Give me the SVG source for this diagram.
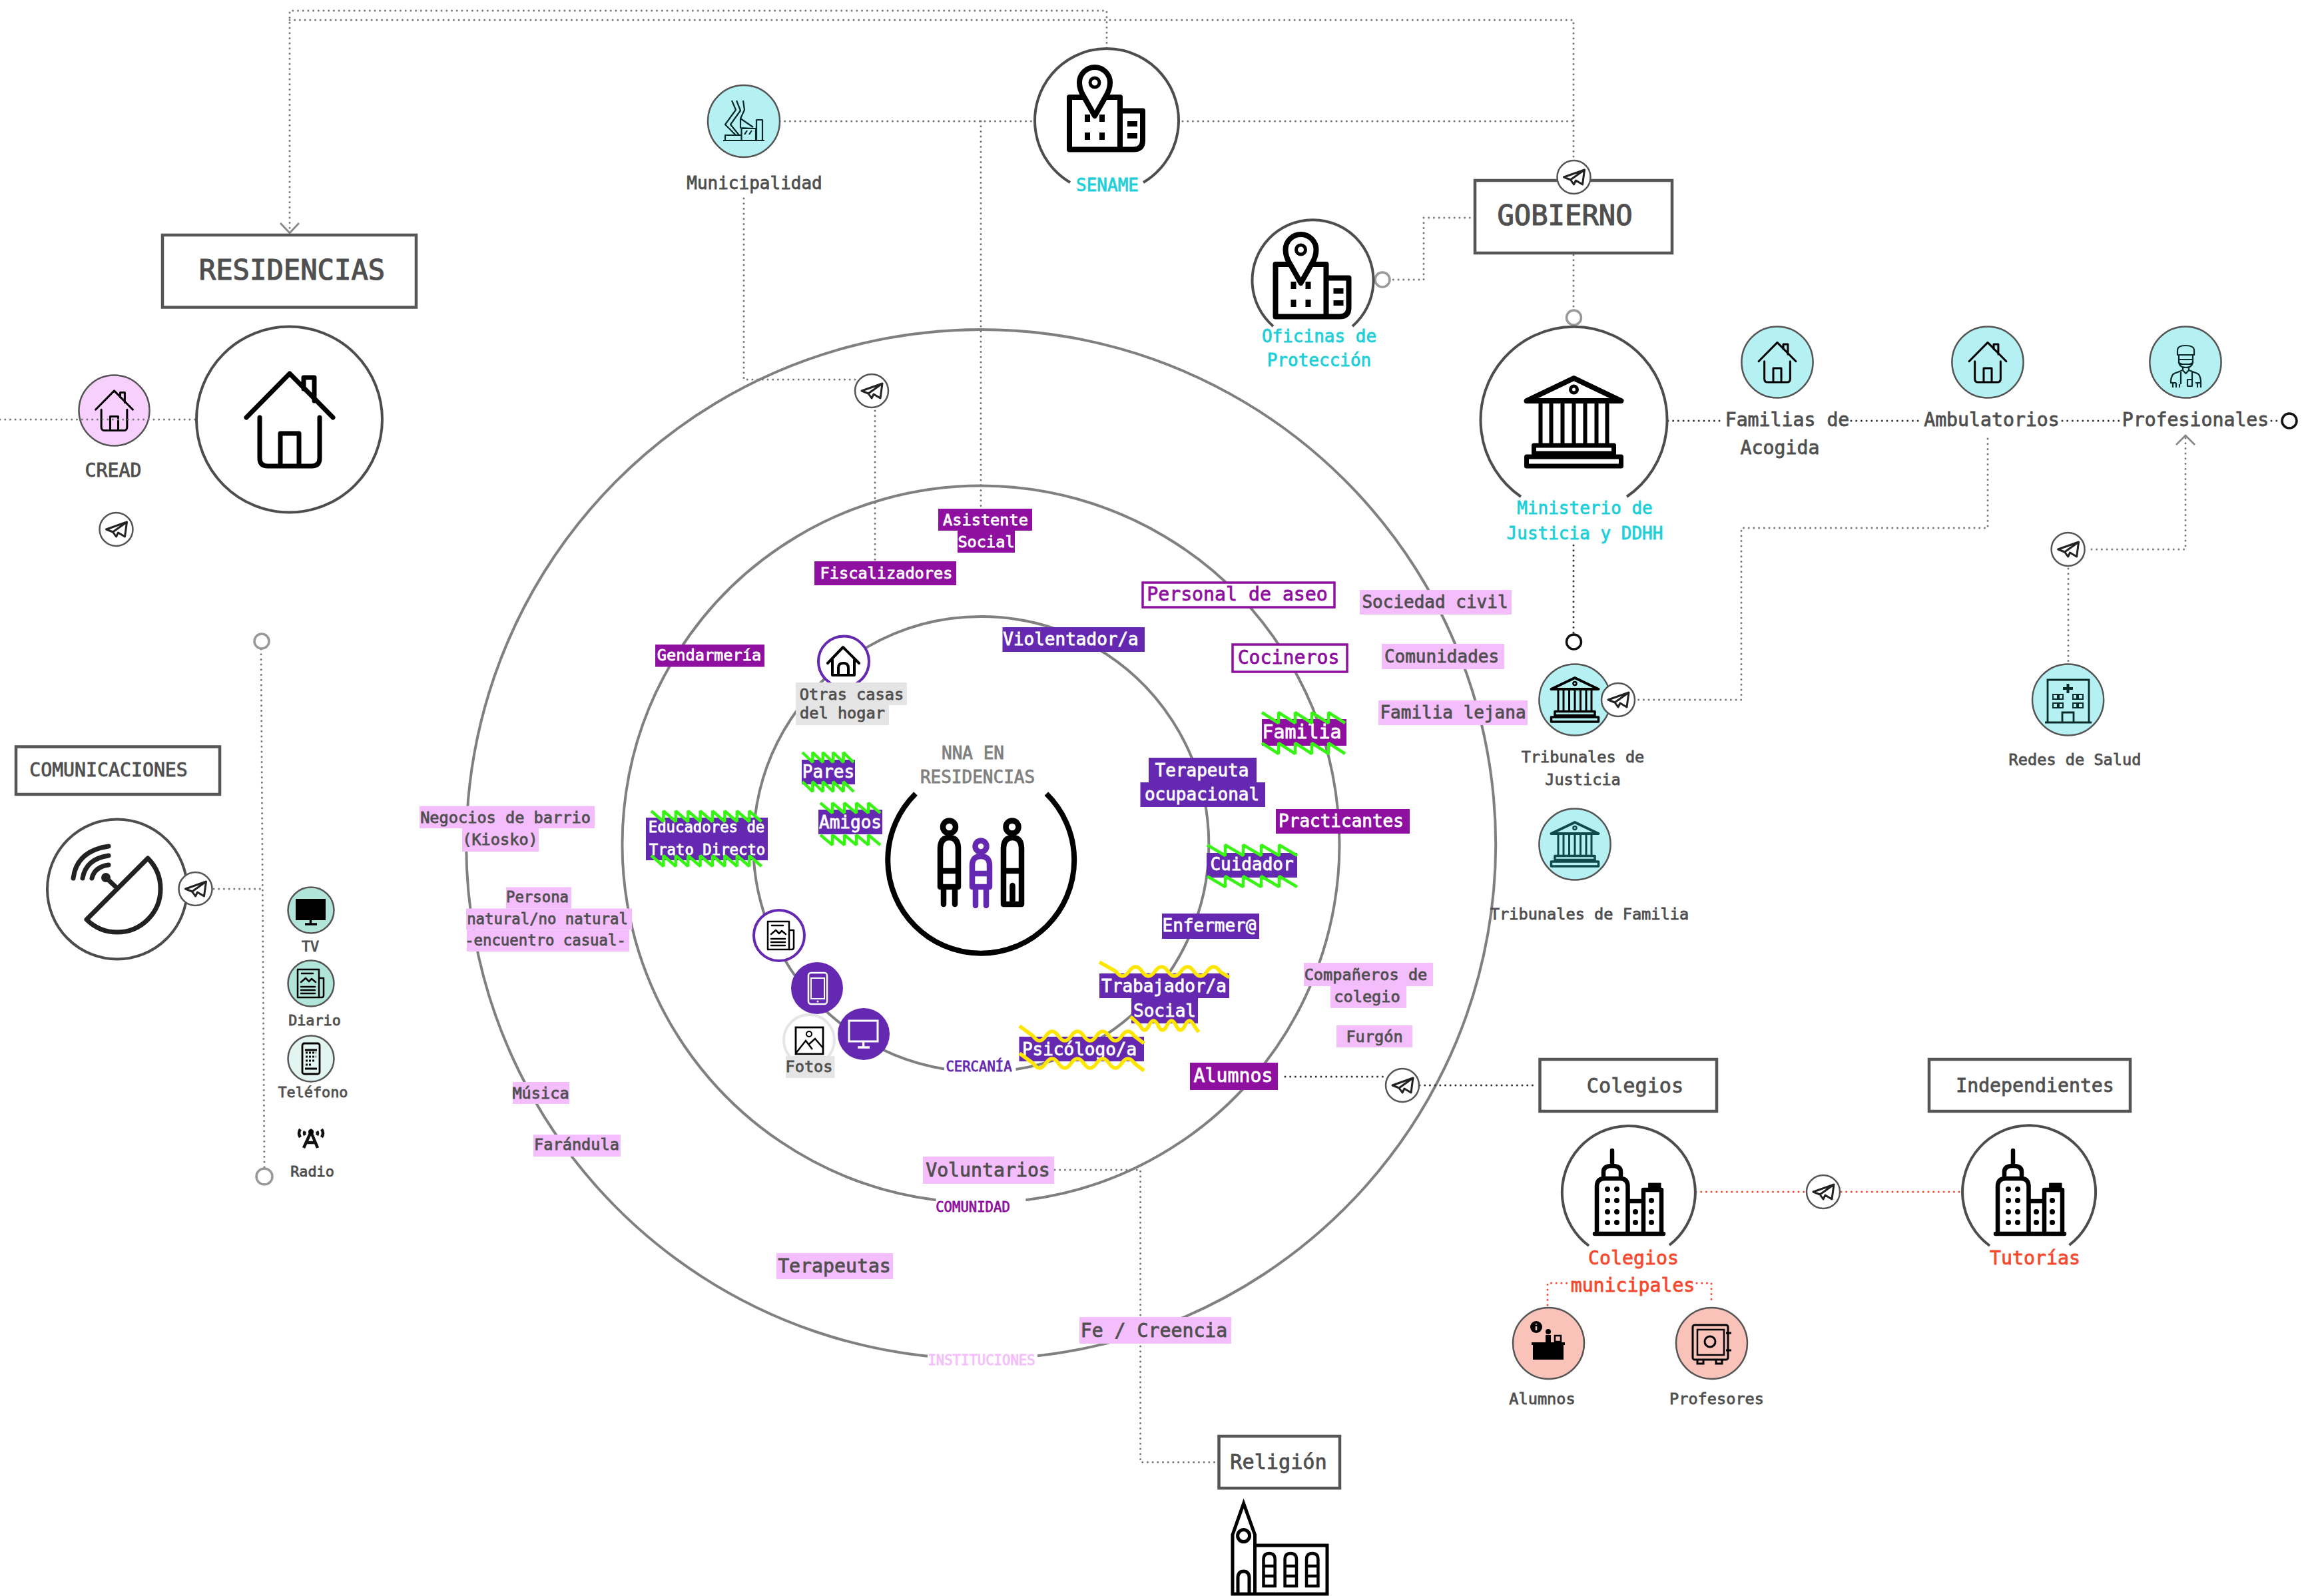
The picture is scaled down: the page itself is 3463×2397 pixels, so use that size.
<svg xmlns="http://www.w3.org/2000/svg" xmlns:xlink="http://www.w3.org/1999/xlink" width="3463" height="2397" viewBox="0 0 3463 2397">
<style>
text{font-family:"DejaVu Sans Mono","Liberation Mono",monospace;dominant-baseline:central;text-anchor:middle;fill:#4f4f4f;stroke:#4f4f4f;stroke-width:.8px}
.f12{font-size:20.6px}.f13{font-size:21.8px}.f14{font-size:23.6px}.f15{font-size:22.3px}.f16{font-size:26px}.f17{font-size:28.2px}.f18{font-size:30.2px}.f42{font-size:42.2px;stroke-width:1.2px}
.w{fill:#fff;stroke:#fff}.cy{fill:#1ccfd8;stroke:#1ccfd8}.rd{fill:#f4492f;stroke:#f4492f}.p1{fill:#6429b0;stroke:#6429b0}.p2{fill:#8e0fa0;stroke:#8e0fa0}.gy{fill:#808080;stroke:#808080}.pk{fill:#f4bdfc;stroke:#f4bdfc}
.bp1{fill:#6429b0}.bp2{fill:#8e0fa0}.bpk{fill:#f4bdfc}.bgy{fill:#e5e5e5}
.ring{fill:none;stroke:#808080;stroke-width:4}
.arc{fill:none;stroke:#4d4d4d;stroke-width:4}
.box{fill:#fff;stroke:#555;stroke-width:4.5}
.ob{fill:#fff;stroke:#8e0fa0;stroke-width:3.5}
.c{stroke:#555;stroke-width:2.5}
.cb{fill:#b5f0f2}.cm{fill:#b2e5da}.cs{fill:#f9c3ba}
.dot{fill:none;stroke:#777;stroke-width:3;stroke-dasharray:0 7.7;stroke-linecap:round}
.dk{stroke:#333}.dr{stroke:#f4492f}
.head{fill:none;stroke:#888;stroke-width:2.8}
.knob{fill:#fff;stroke:#999;stroke-width:3.5}.knobk{fill:#fff;stroke:#111;stroke-width:3.5}
.ic{fill:none;stroke:#000;stroke-linecap:round;stroke-linejoin:round}
.zz{fill:none;stroke:#37f414;stroke-width:4.5;stroke-linejoin:bevel}
.yy{fill:none;stroke:#ffe600;stroke-width:5.5}
</style>
<defs>
<g id="plane"><circle r="25" fill="#fff" stroke="#555" stroke-width="2.5"/><path d="M16,-11 L-15,0 L-5,4 L0,11 L3,5 L13,11 Z M16,-11 L-5,4" fill="none" stroke="#222" stroke-width="3" stroke-linejoin="round"/></g>
<g id="house"><path d="M-65,-3 L0,-69 L65,-3 M-45,-3 V58 Q-45,70 -33,70 H33 Q45,70 45,58 V-3 M-14,70 V21 H14 V70 M21,-46 V-63 H37 V-28"/></g>
<g id="pinb"><path d="M-12,13 H-38 V91.5 H38 V13 H12 M38,33.5 H72 V78 Q72,91.5 58,91.5 H38" stroke-width="8"/><path d="M0,41 L-17,11 Q-23,1 -23,-9 A23,23 0 0 1 23,-9 Q23,1 17,11 Z" stroke-width="8" fill="#fff"/><circle cy="-9" r="7" stroke-width="5"/><path d="M-11,39 V50 M11,39 V50 M-11,66 V77 M11,66 V77 M49,53 H64 M49,71 H64" stroke-width="8" stroke-linecap="butt"/></g>
<g id="bank"><path d="M-71,-30 L0,-64 L71,-30 Z" stroke-width="8"/><circle cy="-47" r="5" stroke-width="5"/><path d="M-50,-30 V37 M-34,-30 V37 M-17,-30 V37 M0,-30 V37 M17,-30 V37 M34,-30 V37 M50,-30 V37" stroke-width="6"/><path d="M-60,37 H60 V49 H-60 Z M-71,54 H71 V68 H-71 Z" stroke-width="7"/></g>
<g id="city"><path d="M-48,63 V-8 Q-48,-20 -36,-20 H-13 Q-1.500,-20 -1.500,-8 V63 M-1.500,14 H22 M22,63 V-3 H49 V63 M-38,-20 V-30 Q-38,-39 -25,-39 Q-12,-39 -12,-30 V-20 M-25,-39 V-62 M-51,63 H52" stroke-width="6.500"/><rect x="30" y="-13" width="18" height="10" fill="#000"/><g fill="#000" stroke="none"><circle cx="-32" cy="-4" r="4"/><circle cx="-18" cy="-4" r="4"/><circle cx="-32" cy="13" r="4"/><circle cx="-18" cy="13" r="4"/><circle cx="-32" cy="30" r="4"/><circle cx="-18" cy="30" r="4"/><circle cx="-32" cy="46" r="4"/><circle cx="-18" cy="46" r="4"/><circle cx="10" cy="30" r="4"/><circle cx="10" cy="46" r="4"/><circle cx="34" cy="13" r="4"/><circle cx="34" cy="30" r="4"/><circle cx="34" cy="46" r="4"/></g></g>
<g id="news"><path d="M-20,-21 H12 V21 H-20 Z M12,-8 H19 V18 Q19,21 16,21 H12" stroke-width="2.500"/><path d="M-14,-15 H3 M-15,-2 L-8,-8 L-3,-3 L1,-7 L7,-2 M-15,5 H6 M-15,10 H6 M-15,15 H6" stroke-width="2.500"/></g>
</defs>

<g id="rings">
<path class="ring" d="M1558,2036.300 A773,773 0 1 0 1393,2036.800"/>
<path class="ring" d="M1540.400,1802.300 A538.500,538.500 0 1 0 1405.600,1802.300"/>
<path class="ring" d="M1525.500,1606 A342,342 0 1 0 1418,1605.500"/>
<text class="f12 p1" x="1470" y="1602">CERCANÍA</text>
<text class="f12 p2" x="1461" y="1813">COMUNIDAD</text>
<text class="f12 pk" x="1474" y="2043">INSTITUCIONES</text>
</g>

<g id="n-cread"><circle class="c" cx="171.500" cy="616.500" r="53" fill="#f7d0fd"/><use href="#house" class="ic" stroke-width="7" transform="translate(171.500,616.500) scale(.43)"/><text class="f17" x="170" y="706">CREAD</text></g>

<g id="connectors">
<path class="dot" d="M1662,72 V16 H435 V346"/>
<path class="dot" d="M435,30 H2363 V241"/>
<path class="dot" d="M1171,182 H1553 M1473,182 V762 M1776,182 H2363"/>
<path class="dot" d="M1117,298 V570 H1287 M1314,617 V843"/>
<path class="dot" d="M2215,327 H2138 V420 H2088"/>
<path class="dot" d="M2363,383 V465"/>
<path class="dot dk" d="M2363,819 V950"/>
<path class="dot dk" d="M2505,632 H2588 M2780,632 H2885 M3097,632 H3183 M3411,632 H3426"/>
<path class="dot" d="M2985,659 V793 H2615 V1051 H2456"/>
<path class="dot" d="M3282,658 V825 H3134 M3106,854 V997"/>
<path class="dot" d="M0,630 H295"/>
<path class="dot" d="M321,1335 H394 M392,975 L397,1755"/>
<path class="dot dk" d="M1930,1617 H2082 M2132,1630 H2306"/>
<path class="dot" d="M1584,1757 H1712.600 V1978 M1712.600,2022 V2196 H1829"/>
<path class="dot dr" d="M2547,1790 H2713 M2765,1790 H2945 M2324,1960 V1927 H2357 M2548,1927 H2570 V1956"/>
<path class="head" d="M421,335 L435,350 L449,335 M3268,668 L3282,654 L3296,668"/>
<circle class="knob" cx="2076" cy="420" r="11"/><circle class="knob" cx="2363.500" cy="477" r="11"/><circle class="knob" cx="393" cy="963" r="11"/><circle class="knob" cx="397" cy="1767" r="12"/>
<circle class="knobk" cx="2363.500" cy="964" r="11"/><circle class="knobk" cx="3438" cy="632" r="11"/>
</g>

<g id="n-residencias"><rect class="box" x="244" y="353" width="381" height="108.500"/><text class="f42" x="438.500" y="405">RESIDENCIAS</text><circle cx="434.500" cy="630" r="139.500" fill="#fff" stroke="#4d4d4d" stroke-width="4"/><use href="#house" class="ic" stroke-width="7" transform="translate(435,630)"/></g>
<use href="#plane" x="174.500" y="795"/>

<g id="n-municipalidad"><circle class="c cb" cx="1117" cy="182" r="54"/><path d="M1086,211 H1148 M1113.500,211 V193 H1135 V211 M1136,211 V180 H1145 V211 M1089,211 V203 H1113 M1118,202 L1122,196 M1125,202 L1129,196 M1099,151 L1105,165 L1089,187 L1105,203 M1106,151 L1112,166 L1097,187 L1110,203 M1116,151 L1118,165 L1112,178 L1131,191 M1112,178 L1112,192 L1130,193" fill="none" stroke="#0a2a2a" stroke-width="2.200" stroke-linejoin="round"/><text class="f16" x="1133" y="275">Municipalidad</text></g>
<g id="n-sename"><path class="arc" d="M1607,274 A108,108 0 1 1 1717,274"/><use href="#pinb" class="ic" transform="translate(1644,133)"/><text class="f16 cy" x="1663" y="278">SENAME</text></g>
<use href="#plane" x="1309" y="587"/>
<g id="n-oficinas"><path class="arc" d="M1912,490 A91,91 0 1 1 2031,490"/><use href="#pinb" class="ic" transform="translate(1953.500,384)"/><text class="f16 cy" x="1981" y="505">Oficinas de</text><text class="f16 cy" x="1981" y="541">Protección</text></g>
<g id="n-gobierno"><rect class="box" x="2215" y="271" width="296" height="109"/><text class="f42" x="2350" y="323">GOBIERNO</text></g>
<use href="#plane" x="2363.500" y="266"/>
<g id="n-ministerio"><path class="arc" d="M2284,746 A140,140 0 1 1 2443,746"/><use href="#bank" class="ic" transform="translate(2363.500,632)"/><text class="f16 cy" x="2380" y="763">Ministerio de</text><text class="f16 cy" x="2380" y="801">Justicia y DDHH</text></g>
<g id="n-familias"><circle class="c cb" cx="2669" cy="544" r="53.600"/><use href="#house" class="ic" stroke-width="7" transform="translate(2669,544) scale(.43)"/><text class="f17" x="2684" y="630">Familias de</text><text class="f17" x="2673" y="672">Acogida</text></g>
<g id="n-ambulatorios"><circle class="c cb" cx="2985" cy="544" r="53.600"/><use href="#house" class="ic" stroke-width="7" transform="translate(2985,544) scale(.43)"/><text class="f17" x="2991" y="630">Ambulatorios</text></g>
<g id="n-profesionales"><circle class="c cb" cx="3282" cy="544" r="53.600"/><path d="M3270,533 V526 Q3270,519 3282,519 Q3295,519 3295,526 V533 Z M3272,533 V542 Q3272,552 3282.500,552 Q3293,552 3293,542 V533 M3272,540 H3293 V545 L3288,547 H3277 L3272,545 Z M3278,551 V556 L3282.500,561 L3287,556 V551 M3278,556 L3265,561 Q3261,563 3260,572 V575 H3268 M3287,556 L3300,561 Q3304,563 3305,572 V575 H3297 M3275,559 V577 M3292,559 V572 M3285,570 H3292 V580 H3285 Z M3263,575 V582 M3268,575 V582 M3273,577 V582 M3300,575 V582 M3305,575 V582" fill="none" stroke="#0a2a2a" stroke-width="2.200" stroke-linejoin="round"/><text class="f17" x="3297" y="630">Profesionales</text></g>
<use href="#plane" x="3105.600" y="825"/>
<g id="n-redes"><circle class="c cb" cx="3105.600" cy="1051" r="53.600"/><path d="M3075,1085 V1021 H3137 V1085 M3071,1085 H3141 M3097,1085 V1070 H3114 V1085" fill="none" stroke="#0a2a2a" stroke-width="2.800"/><path d="M3098,1034 H3113 M3105.500,1027 V1041" fill="none" stroke="#0a2a2a" stroke-width="4"/><path d="M3083,1043 h7 v7 h-7 z M3092,1043 h6 v7 h-6 z M3113,1043 h6 v7 h-6 z M3121,1043 h7 v7 h-7 z M3083,1056 h7 v7 h-7 z M3092,1056 h6 v7 h-6 z M3113,1056 h6 v7 h-6 z M3121,1056 h7 v7 h-7 z" fill="none" stroke="#0a2a2a" stroke-width="2"/><text class="f14" x="3116" y="1141">Redes de Salud</text></g>
<g id="n-tribunales-justicia"><circle class="c cb" cx="2365" cy="1051" r="53.600"/><use href="#bank" class="ic" transform="translate(2365,1050) scale(.5)"/><use href="#plane" x="2430" y="1051"/><text class="f14" x="2377" y="1137">Tribunales de</text><text class="f14" x="2377" y="1171">Justicia</text></g>
<g id="n-tribunales-familia"><circle class="c cb" cx="2365" cy="1268" r="53.600"/><use href="#bank" fill="none" stroke="#0e4a4c" stroke-linecap="round" stroke-linejoin="round" transform="translate(2365,1267) scale(.5)"/><text class="f14" x="2387" y="1373">Tribunales de Familia</text></g>

<g id="n-comunicaciones"><rect class="box" x="24" y="1121.500" width="306" height="71.500"/><text class="f17" x="163" y="1156">COMUNICACIONES</text><circle cx="176" cy="1335.500" r="105" fill="#fff" stroke="#4d4d4d" stroke-width="4"/><path d="M130,1381 L222,1289 A65,65 0 0 1 130,1381 Z" fill="none" stroke="#222" stroke-width="7" stroke-linejoin="round"/><path d="M176,1334 L159,1318 M110,1319 Q115,1278 163,1271 M124,1319 Q129,1290 163,1285 M138,1319 Q142,1302 163,1299" fill="none" stroke="#222" stroke-width="7" stroke-linecap="round"/><circle cx="159" cy="1318" r="7" fill="#222"/><use href="#plane" x="293.500" y="1335"/></g>
<g id="n-tv"><circle class="c cm" cx="467" cy="1367" r="34.500"/><rect x="444" y="1350" width="45" height="32" fill="#000"/><path d="M466.500,1382 V1388 M458,1388 H476" stroke="#000" stroke-width="3.500"/><text class="f13" x="466" y="1421">TV</text></g>
<g id="n-diario"><circle class="c cm" cx="467" cy="1477" r="34.500"/><use href="#news" class="ic" transform="translate(467,1477)"/><text class="f13" x="472.500" y="1532.500">Diario</text></g>
<g id="n-telefono"><circle class="c" cx="467" cy="1590" r="34.500" fill="#e3f5f1"/><rect x="454" y="1567" width="26" height="46" rx="3" fill="none" stroke="#000" stroke-width="2.800"/><path d="M458,1577 H476 M458,1605 H476 M459,1581 h3 m2,0 h3 m2,0 h3 m2,0 h1 M459,1587 h3 m2,0 h3 m2,0 h3 m2,0 h1 M459,1593 h3 m2,0 h3 m2,0 h3 M459,1599 h3 m2,0 h3" fill="none" stroke="#000" stroke-width="3"/><text class="f13" x="470" y="1640">Teléfono</text></g>
<g id="n-radio"><path d="M456,1724 L467,1700 L477,1724 M460,1716 H474 M451,1696 Q447,1702 451,1708 M458,1699 Q456,1702 458,1705 M483,1696 Q487,1702 483,1708 M476,1699 Q478,1702 476,1705" fill="none" stroke="#111" stroke-width="4.500"/><circle cx="467" cy="1700" r="4"/><text class="f13" x="469" y="1759">Radio</text></g>

<g id="n-nna"><text class="f16 gy" x="1461" y="1130.500">NNA EN</text><text class="f16 gy" x="1468" y="1167">RESIDENCIAS</text><path d="M1375,1192 A140,140 0 1 0 1571.400,1192" fill="none" stroke="#000" stroke-width="8"/>
<g class="ic" stroke-width="8.500"><circle cx="1425.500" cy="1242" r="9.500"/><path d="M1412,1332 V1275 Q1412,1258 1425.500,1258 Q1439,1258 1439,1275 V1332 Z M1412,1308 H1439 M1417,1332 V1358 M1434,1332 V1358"/><circle cx="1520" cy="1242" r="9.500"/><path d="M1507,1358 V1275 Q1507,1258 1520.500,1258 Q1534,1258 1534,1275 V1358 Z M1507,1308 H1534 M1520.500,1330 V1358"/></g>
<g class="ic" style="stroke:#6429b0" stroke-width="8.500"><circle cx="1473" cy="1271" r="8.500"/><path d="M1460,1332 V1300 Q1460,1286 1473,1286 Q1486,1286 1486,1300 V1332 Z M1460,1312 H1486 M1465,1332 V1360 M1481,1332 V1360"/></g></g>

<g id="n-otras-casas"><circle cx="1267" cy="993.500" r="38" fill="#fff" stroke="#6429b0" stroke-width="4"/><path d="M1243,996 L1266,972 L1290,996 M1250,991 V1014 H1283 V991 M1259,1014 V1003 Q1259,996 1266.500,996 Q1274,996 1274,1003 V1014" fill="none" stroke="#000" stroke-width="4" stroke-linejoin="round" stroke-linecap="round"/><rect class="bgy" x="1195" y="1025" width="167" height="34"/><rect class="bgy" x="1195" y="1059" width="140" height="30"/><text class="f14" x="1279" y="1042.500">Otras casas</text><text class="f14" x="1265" y="1071">del hogar</text></g>
<g id="n-diario-ring"><circle cx="1170" cy="1405" r="38" fill="#fff" stroke="#6429b0" stroke-width="4"/><use href="#news" class="ic" transform="translate(1173,1405)"/></g>
<g id="n-fotos"><circle cx="1215" cy="1562" r="38" fill="#fff" stroke="#e5e5e5" stroke-width="4"/><rect x="1195" y="1543" width="41" height="40" fill="none" stroke="#000" stroke-width="2.800"/><circle cx="1215" cy="1553" r="4" fill="none" stroke="#000" stroke-width="2"/><path d="M1195,1582 L1210,1563 L1220,1576 M1214,1569 L1224,1560 L1236,1574" fill="none" stroke="#000" stroke-width="2.500"/><rect class="bgy" x="1180" y="1586" width="73.500" height="33"/><text class="f14" x="1215" y="1602">Fotos</text></g>
<g id="n-telefono-ring"><circle class="bp1" cx="1227" cy="1484" r="39"/><rect x="1214" y="1461" width="28" height="47" rx="4" fill="none" stroke="#fff" stroke-width="2.500"/><rect x="1218" y="1469" width="20" height="31" fill="none" stroke="#fff" stroke-width="2"/><circle cx="1228" cy="1504" r="1.500" fill="#fff"/></g>
<g id="n-monitor-ring"><circle class="bp1" cx="1297" cy="1553" r="39"/><rect x="1275" y="1533" width="43" height="31" fill="none" stroke="#fff" stroke-width="3"/><path d="M1296.500,1564 V1572 M1288,1573 H1306" stroke="#fff" stroke-width="3.500"/></g>

<g id="labels-cercania">
<g id="n-violentador"><rect class="bp1" x="1505.500" y="942" width="213.500" height="37"/><text class="f16 w" x="1608" y="959.500">Violentador/a</text></g>
<g id="n-terapeuta"><rect class="bp1" x="1725" y="1138" width="162" height="37"/><rect class="bp1" x="1712.500" y="1175" width="187.500" height="37"/><text class="f16 w" x="1805" y="1157">Terapeuta</text><text class="f16 w" x="1805" y="1193">ocupacional</text></g>
<g id="n-pares"><rect class="bp1" x="1204" y="1141" width="80" height="37"/><text class="f16 w" x="1244" y="1159">Pares</text><path class="zz" d="M1205,1130 l15.400,15 v-15 l15.400,15 v-15 l15.400,15 v-15 l15.400,15 v-15 l15.400,15"/><path class="zz" d="M1205,1174 l15.400,15 v-15 l15.400,15 v-15 l15.400,15 v-15 l15.400,15 v-15 l15.400,15"/></g>
<g id="n-amigos"><rect class="bp1" x="1229" y="1216" width="96" height="37"/><text class="f16 w" x="1277" y="1234.500">Amigos</text><path class="zz" d="M1232,1206 l18,15 v-15 l18,15 v-15 l18,15 v-15 l18,15 v-15 l18,15"/><path class="zz" d="M1232,1254 l18,15 v-15 l18,15 v-15 l18,15 v-15 l18,15 v-15 l18,15"/></g>
<g id="n-educadores"><rect class="bp1" x="970" y="1228" width="183" height="64"/><text class="f15 w" x="1061" y="1242">Educadores de</text><text class="f15 w" x="1062" y="1275.500">Trato Directo</text><path class="zz" d="M978,1218 l18.400,16 v-16 l18.400,16 v-16 l18.400,16 v-16 l18.400,16 v-16 l18.400,16 v-16 l18.400,16 v-16 l18.400,16 v-16 l18.400,16 v-16 l18.400,16"/><path class="zz" d="M978,1285 l18.400,16 v-16 l18.400,16 v-16 l18.400,16 v-16 l18.400,16 v-16 l18.400,16 v-16 l18.400,16 v-16 l18.400,16 v-16 l18.400,16 v-16 l18.400,16"/></g>
<g id="n-cuidador"><rect class="bp1" x="1812" y="1281" width="136" height="37"/><text class="f16 w" x="1880" y="1298">Cuidador</text><path class="zz" d="M1813,1269 l27,16 v-16 l27,16 v-16 l27,16 v-16 l27,16 v-16 l27,16"/><path class="zz" d="M1813,1316 l27,16 v-16 l27,16 v-16 l27,16 v-16 l27,16 v-16 l27,16"/></g>
<g id="n-enfermera"><rect class="bp1" x="1745" y="1372" width="146" height="38"/><text class="f16 w" x="1816" y="1390">Enfermer@</text></g>
<g id="n-trabajador"><rect class="bp1" x="1651" y="1462" width="195" height="37"/><rect class="bp1" x="1699" y="1499" width="100" height="38"/><text class="f16 w" x="1748" y="1481">Trabajador/a</text><text class="f16 w" x="1749" y="1518">Social</text><path class="yy" d="M1651,1445 L1676,1459 q9.500,14 19.500,0 t19.500,0 t19.500,0 t19.500,0 t19.500,0 t19.500,0 t19.500,0 t19.500,0 L1846,1468"/><path class="yy" d="M1698,1527 L1712,1540 q6.750,14 13.500,0 t13.500,0 t13.500,0 t13.500,0 t13.500,0 t13.500,0 L1800,1550"/></g>
<g id="n-psicologo"><rect class="bp1" x="1530.500" y="1557" width="187.500" height="37"/><text class="f16 w" x="1621" y="1576">Psicólogo/a</text><path class="yy" d="M1531,1541 L1551.500,1556 q9.500,14 19,0 t19,0 t19,0 t19,0 t19,0 t19,0 t19,0 t19,0 l14.500,11"/><path class="yy" d="M1531,1582 L1551.500,1597 q9.500,14 19,0 t19,0 t19,0 t19,0 t19,0 t19,0 t19,0 t19,0 l14.500,11"/></g>
</g>

<g id="labels-comunidad">
<g id="n-asistente"><rect class="bp2" x="1409" y="764" width="141" height="33"/><rect class="bp2" x="1438" y="797" width="86" height="33"/><text class="f14 w" x="1480" y="781">Asistente</text><text class="f14 w" x="1481" y="814">Social</text></g>
<g id="n-fiscalizadores"><rect class="bp2" x="1223" y="843" width="213" height="36"/><text class="f14 w" x="1331" y="861">Fiscalizadores</text></g>
<g id="n-gendarmeria"><rect class="bp2" x="984" y="968" width="164" height="33.500"/><text class="f14 w" x="1065" y="984">Gendarmería</text></g>
<g id="n-personal"><rect class="ob" x="1716" y="875" width="288" height="37"/><text class="f17 p2" x="1858" y="892">Personal de aseo</text></g>
<g id="n-cocineros"><rect class="ob" x="1851" y="968" width="172" height="41"/><text class="f17 p2" x="1935" y="987">Cocineros</text></g>
<g id="n-familia"><rect class="bp2" x="1895" y="1080" width="127" height="40"/><text class="f17 w" x="1955" y="1099">Familia</text><path class="zz" d="M1895,1070 l25,16 v-16 l25,16 v-16 l25,16 v-16 l25,16 v-16 l25,16"/><path class="zz" d="M1895,1116 l25,16 v-16 l25,16 v-16 l25,16 v-16 l25,16 v-16 l25,16"/></g>
<g id="n-practicantes"><rect class="bp2" x="1916" y="1215" width="201" height="37"/><text class="f16 w" x="2014" y="1233">Practicantes</text></g>
<g id="n-alumnos-ring"><rect class="bp2" x="1787" y="1596" width="132" height="41"/><text class="f17 w" x="1852" y="1615">Alumnos</text></g>
<g id="n-voluntarios"><rect class="bpk" x="1386" y="1737" width="197" height="41"/><text class="f17" x="1483.500" y="1757">Voluntarios</text></g>
</g>

<g id="labels-instituciones">
<g id="n-sociedad"><rect class="bpk" x="2042" y="886" width="228" height="37"/><text class="f16" x="2155" y="904">Sociedad civil</text></g>
<g id="n-comunidades"><rect class="bpk" x="2075" y="967" width="184" height="38"/><text class="f16" x="2165" y="986">Comunidades</text></g>
<g id="n-lejana"><rect class="bpk" x="2070" y="1052" width="224" height="37"/><text class="f16" x="2182" y="1070">Familia lejana</text></g>
<g id="n-negocios"><rect class="bpk" x="630" y="1210.500" width="263" height="33.500"/><rect class="bpk" x="694" y="1244" width="115" height="35"/><text class="f14" x="759" y="1227.500">Negocios de barrio</text><text class="f14" x="751" y="1261">(Kiosko)</text></g>
<g id="n-persona"><rect class="bpk" x="760" y="1332.500" width="98" height="32"/><rect class="bpk" x="700" y="1364.500" width="249" height="32"/><rect class="bpk" x="701" y="1396.500" width="244" height="32.500"/><text class="f15" x="807" y="1347">Persona</text><text class="f15" x="822" y="1380">natural/no natural</text><text class="f15" x="819" y="1412">-encuentro casual-</text></g>
<g id="n-musica"><rect class="bpk" x="770" y="1625" width="85" height="33"/><text class="f14" x="812" y="1642">Música</text></g>
<g id="n-farandula"><rect class="bpk" x="801" y="1704" width="131" height="33"/><text class="f14" x="866" y="1719">Farándula</text></g>
<g id="n-companeros"><rect class="bpk" x="1958" y="1446" width="194" height="35"/><rect class="bpk" x="1998" y="1481" width="114" height="33"/><text class="f14" x="2051" y="1464">Compañeros de</text><text class="f14" x="2053" y="1497">colegio</text></g>
<g id="n-furgon"><rect class="bpk" x="2007" y="1540" width="114" height="33"/><text class="f14" x="2064" y="1557">Furgón</text></g>
<g id="n-terapeutas"><rect class="bpk" x="1166" y="1882" width="175" height="39"/><text class="f17" x="1253" y="1901">Terapeutas</text></g>
<g id="n-fe"><rect class="bpk" x="1621" y="1978" width="228" height="40"/><text class="f17" x="1733" y="1998">Fe / Creencia</text></g>
</g>

<use href="#plane" x="2106" y="1630"/>
<g id="n-colegios"><rect class="box" x="2312.500" y="1591" width="265.500" height="78"/><text class="f18" x="2455.500" y="1630">Colegios</text><path class="arc" d="M2386,1871 A100,100 0 1 1 2507,1870"/><use href="#city" class="ic" transform="translate(2446,1790)"/><text class="f17 rd" x="2453" y="1889">Colegios</text><text class="f17 rd" x="2452" y="1930">municipales</text></g>
<g id="n-independientes"><rect class="box" x="2897" y="1591" width="302" height="78"/><text class="f17" x="3056" y="1630">Independientes</text><path class="arc" d="M2988,1871 A100,100 0 1 1 3107.500,1870"/><use href="#city" class="ic" transform="translate(3048,1790)"/><text class="f17 rd" x="3056" y="1889">Tutorías</text></g>
<use href="#plane" x="2738" y="1790"/>
<g id="n-alumnos"><circle class="c cs" cx="2325.500" cy="2017.500" r="53.500"/><circle cx="2307" cy="1993" r="9"/><path d="M2307,1988 V1989.500 M2307,1992 V1998" stroke="#f9c3ba" stroke-width="2.500"/><rect x="2300" y="2016" width="50" height="4"/><rect x="2302" y="2020" width="46" height="22"/><circle cx="2325" cy="2000" r="4"/><rect x="2321" y="2005" width="8" height="11"/><rect x="2335" y="2006" width="9" height="9" fill="none" stroke="#000" stroke-width="2.500"/><text class="f14" x="2316" y="2101">Alumnos</text></g>
<g id="n-profesores"><circle class="c cs" cx="2570.500" cy="2017.500" r="53.500"/><rect x="2542" y="1990" width="53" height="52" rx="3" fill="none" stroke="#000" stroke-width="3"/><rect x="2549" y="1997" width="40" height="38" fill="none" stroke="#000" stroke-width="2.500"/><circle cx="2568" cy="2015" r="8" fill="none" stroke="#000" stroke-width="3"/><path d="M2592,2002 H2600 M2592,2028 H2600 M2549,2042 V2048 H2558 V2042 M2577,2042 V2048 H2586 V2042" fill="none" stroke="#000" stroke-width="3"/><text class="f14" x="2578" y="2101">Profesores</text></g>
<g id="n-religion"><rect class="box" x="1830.500" y="2157" width="181.500" height="78"/><text class="f18" x="1920" y="2195">Religión</text><path d="M1851,2394 V2305 L1867.600,2258 L1884.500,2305 V2394 Z M1885,2321 H1993 V2394 H1851 M1859,2394 V2370 Q1859,2360 1867.500,2360 Q1876,2360 1876,2370 V2394" fill="none" stroke="#000" stroke-width="5"/><circle cx="1867.600" cy="2306.500" r="9" fill="none" stroke="#000" stroke-width="5"/><path d="M1897.500,2382 V2342 Q1897.500,2333 1906,2333 Q1914.700,2333 1914.700,2342 V2382 Z M1897.500,2352 H1914.700 M1897.500,2367 H1914.700 M1929.600,2382 V2342 Q1929.600,2333 1938,2333 Q1947,2333 1947,2342 V2382 Z M1929.600,2352 H1947 M1929.600,2367 H1947 M1962,2382 V2342 Q1962,2333 1970.700,2333 Q1979.400,2333 1979.400,2342 V2382 Z M1962,2352 H1979.400 M1962,2367 H1979.400" fill="none" stroke="#000" stroke-width="4.500"/></g>
</svg>
